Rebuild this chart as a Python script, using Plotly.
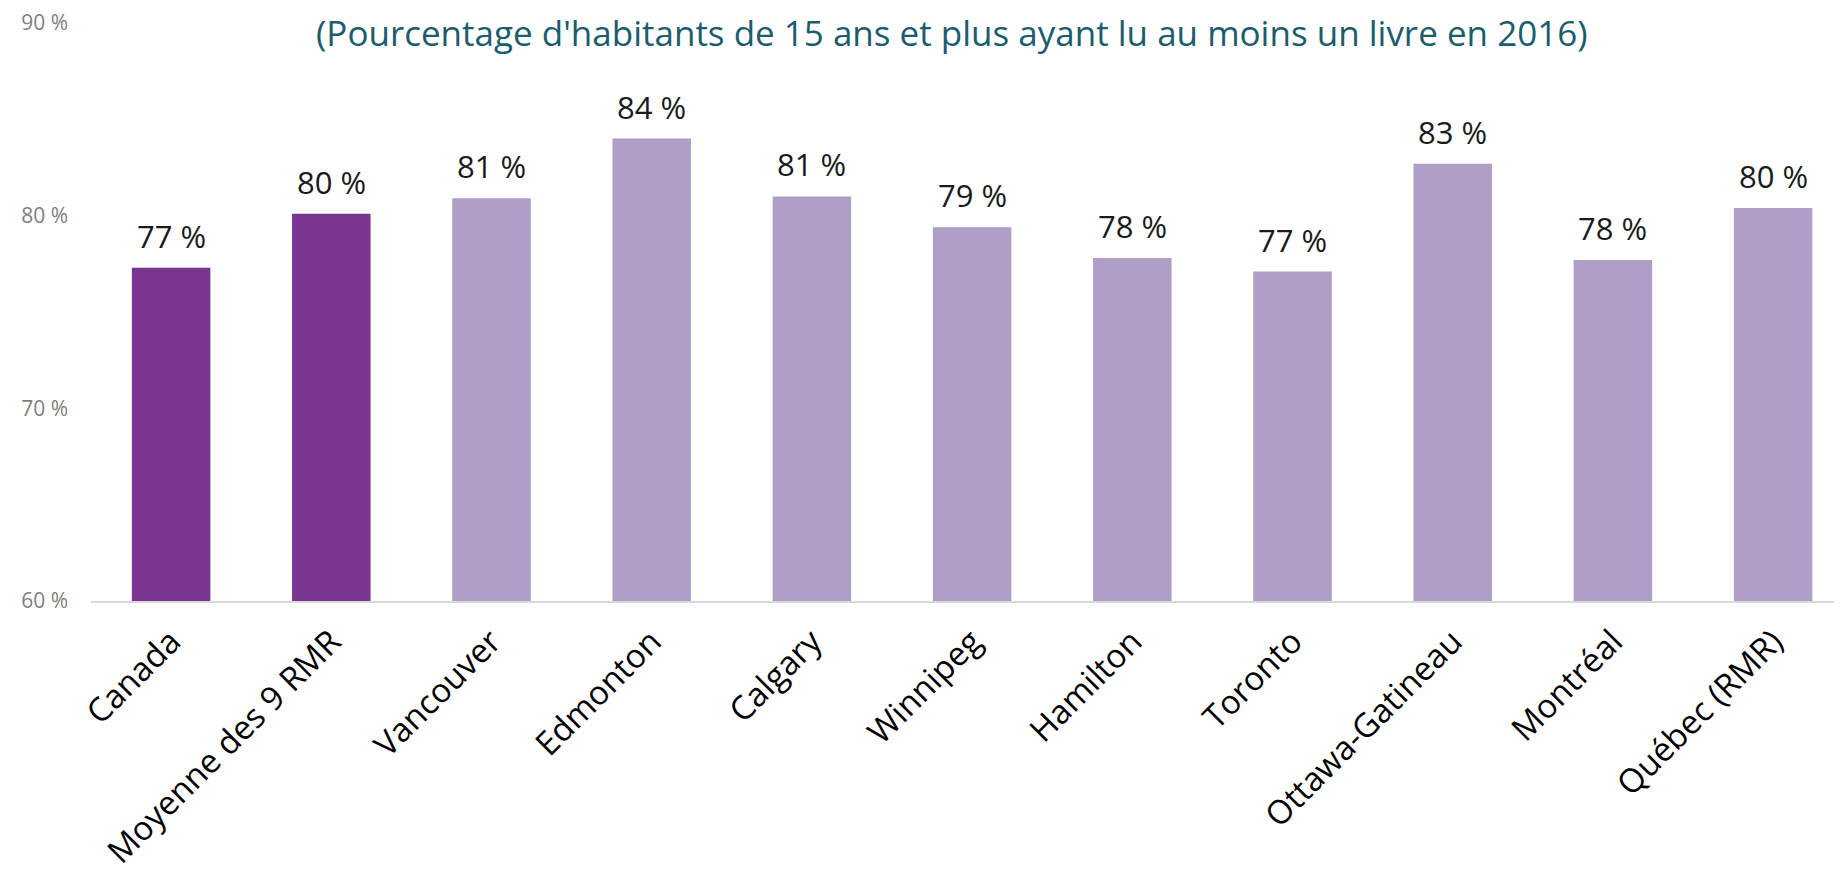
import plotly.graph_objects as go

categories = ["Canada", "Moyenne des 9 RMR", "Vancouver", "Edmonton", "Calgary",
              "Winnipeg", "Hamilton", "Toronto", "Ottawa-Gatineau", "Montréal", "Québec (RMR)"]
values = [77.3, 80.1, 80.9, 84.0, 81.0, 79.4, 77.8, 77.1, 82.7, 77.7, 80.4]
labels = ["77 %", "80 %", "81 %", "84 %", "81 %", "79 %", "78 %", "77 %", "83 %", "78 %", "80 %"]
bar_colors = ["#7A3590", "#7A3590"] + ["#AF9EC7"] * 9
y_ticks = [60, 70, 80, 90]
y_tick_text = ["60 %", "70 %", "80 %", "90 %"]
subtitle = "(Pourcentage d'habitants de 15 ans et plus ayant lu au moins un livre en 2016)"

fig = go.Figure()
fig.add_trace(go.Bar(
    x=list(range(len(categories))), y=values,
    marker=dict(color=bar_colors, line=dict(width=0)),
    width=0.49, hoverinfo="skip",
))

for i, (v, t) in enumerate(zip(values, labels)):
    fig.add_annotation(x=i, y=v, text=t, xref="x", yref="y", showarrow=False,
                       yanchor="bottom", yshift=9,
                       font=dict(family="Open Sans", size=31, color="#1a1a1a"))

fig.add_annotation(x=0.4917, y=0.984, xref="paper", yref="paper", text=subtitle,
                   showarrow=False, xanchor="center", yanchor="middle",
                   font=dict(family="Open Sans", size=35, color="#1B5C6E"))

fig.update_layout(
    width=1834, height=863,
    margin=dict(l=83, r=0, t=15, b=270, autoexpand=False),
    paper_bgcolor="white", plot_bgcolor="white",
    showlegend=False,
)
fig.update_xaxes(
    range=[-0.5, 10.43], automargin=False,
    tickmode="array", tickvals=list(range(len(categories))), ticktext=categories,
    tickangle=-45, showgrid=False, zeroline=False,
    showline=True, linecolor="#D9D9D9", linewidth=2,
    ticks="", ticklabelstandoff=6,
    tickfont=dict(family="Open Sans", size=33, color="#000000"),
)
fig.update_yaxes(
    range=[60, 90], automargin=False,
    tickmode="array", tickvals=y_ticks, ticktext=y_tick_text,
    showgrid=False, zeroline=False, showline=False, ticks="",
    ticklabelstandoff=22,
    tickfont=dict(family="Open Sans", size=21, color="#7F7F7F"),
)

fig.write_html("out.html")
